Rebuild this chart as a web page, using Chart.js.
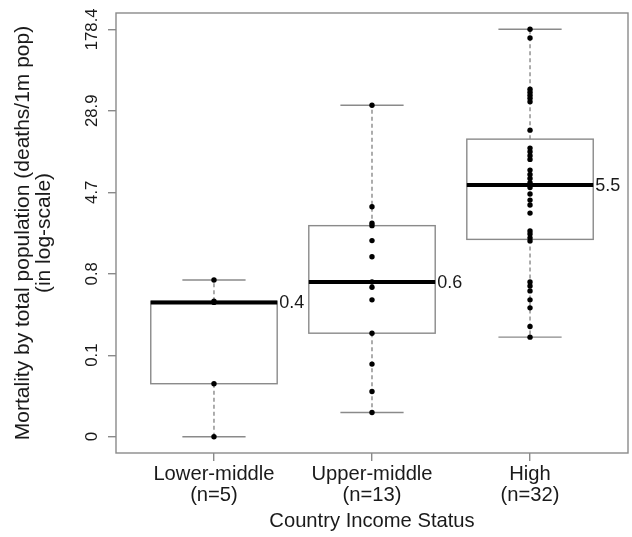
<!DOCTYPE html>
<html>
<head>
<meta charset="utf-8">
<script src="https://cdn.jsdelivr.net/npm/chart.js@4.4.1/dist/chart.umd.min.js"></script>
<style>
  html, body { margin: 0; padding: 0; background: #fff; }
  #wrap { width: 632px; height: 537px; }
</style>
</head>
<body>
<div id="wrap"><canvas id="chart" width="632" height="537"></canvas></div>
<script>
// categories and per-country values (deaths per 1m pop)
const categories = ['Lower-middle', 'Upper-middle', 'High'];
const lowerMiddle = [0.0199, 0.065, 0.40, 0.41, 0.66];
const upperMiddle = [32.7, 3.39, 2.34, 2.22, 1.59, 1.11, 0.63, 0.561, 0.423, 0.201, 0.1007, 0.0547, 0.0342];
const high = [178.4, 146.9, 46.8, 43.8, 40.9, 38.3, 35.3, 18.75, 12.55, 11.56, 10.57, 9.75,
    7.68, 6.98, 6.38, 5.81, 5.20, 4.50, 3.93, 3.52, 2.94, 1.97, 1.84, 1.69, 1.58,
    0.632, 0.578, 0.517, 0.423, 0.354, 0.233, 0.184];
const groups = [lowerMiddle, upperMiddle, high];

// y axis ticks (log scale) and their printed labels
const yTickValues = [0.0199, 0.1229, 0.758, 4.682, 28.9, 178.4];
const yTickLabels = ['0', '0.1', '0.8', '4.7', '28.9', '178.4'];

const FONT = '"Liberation Sans", Arial, sans-serif';
const GREY = '#8a8a8a';
const TEXT = '#1a1a1a';

// R style fivenum + whiskers, computed on log10 values
function boxStats(vals) {
    const x = vals.map(v => Math.log10(v)).sort((a, b) => a - b);
    const n = x.length;
    const n4 = Math.floor((n + 3) / 2) / 2;
    const d = [1, n4, (n + 1) / 2, n + 1 - n4, n];
    const f = d.map(di => 0.5 * (x[Math.floor(di) - 1] + x[Math.ceil(di) - 1]));
    const iqr = f[3] - f[1];
    const lo = x.find(v => v >= f[1] - 1.5 * iqr);
    const hi = x.slice().reverse().find(v => v <= f[3] + 1.5 * iqr);
    return {
        min: Math.pow(10, lo), q1: Math.pow(10, f[1]), med: Math.pow(10, f[2]),
        q3: Math.pow(10, f[3]), max: Math.pow(10, hi)
    };
}

// 4% padding on both ends in log space, like R
const logMin = Math.log10(yTickValues[0]);
const logMax = Math.log10(yTickValues[yTickValues.length - 1]);
const logPad = 0.04 * (logMax - logMin);

const boxPlugin = {
    id: 'boxes',
    beforeDatasetsDraw(chart) {
        const ctx = chart.ctx;
        const xs = chart.scales.x, ys = chart.scales.y;
        groups.forEach((vals, i) => {
            const s = boxStats(vals);
            const cx = xs.getPixelForValue(i + 1);
            const bl = xs.getPixelForValue(i + 1 - 0.4), br = xs.getPixelForValue(i + 1 + 0.4);
            const cl = xs.getPixelForValue(i + 1 - 0.2), cr = xs.getPixelForValue(i + 1 + 0.2);
            const yMin = ys.getPixelForValue(s.min), yMax = ys.getPixelForValue(s.max);
            const yQ1 = ys.getPixelForValue(s.q1), yQ3 = ys.getPixelForValue(s.q3);
            const yMed = ys.getPixelForValue(s.med);
            ctx.save();
            ctx.strokeStyle = GREY;
            ctx.lineWidth = 1.4;
            // whiskers
            ctx.setLineDash([4, 3]);
            ctx.beginPath();
            ctx.moveTo(cx, yQ3); ctx.lineTo(cx, yMax);
            ctx.moveTo(cx, yQ1); ctx.lineTo(cx, yMin);
            ctx.stroke();
            ctx.setLineDash([]);
            // caps
            ctx.beginPath();
            ctx.moveTo(cl, yMax); ctx.lineTo(cr, yMax);
            ctx.moveTo(cl, yMin); ctx.lineTo(cr, yMin);
            ctx.stroke();
            // box
            ctx.fillStyle = '#fff';
            ctx.fillRect(bl, yQ3, br - bl, yQ1 - yQ3);
            ctx.strokeRect(bl, yQ3, br - bl, yQ1 - yQ3);
            // median
            ctx.strokeStyle = '#000';
            ctx.lineWidth = 4;
            ctx.beginPath();
            ctx.moveTo(bl, yMed); ctx.lineTo(br, yMed);
            ctx.stroke();
            ctx.restore();
        });
    },
    afterDatasetsDraw(chart) {
        const ctx = chart.ctx;
        const xs = chart.scales.x, ys = chart.scales.y;
        const a = chart.chartArea;
        ctx.save();
        // frame
        ctx.strokeStyle = GREY;
        ctx.lineWidth = 1.4;
        ctx.strokeRect(a.left, a.top, a.right - a.left, a.bottom - a.top);
        // median labels
        ctx.fillStyle = TEXT;
        ctx.font = '18px ' + FONT;
        ctx.textAlign = 'left';
        ctx.textBaseline = 'middle';
        groups.forEach((vals, i) => {
            const s = boxStats(vals);
            ctx.fillText(s.med.toFixed(1), xs.getPixelForValue(i + 1 + 0.4) + 2, ys.getPixelForValue(s.med) + 1);
        });
        // y tick labels, parallel to the axis
        ctx.font = '16.8px ' + FONT;
        ctx.textAlign = 'center';
        ctx.textBaseline = 'alphabetic';
        yTickValues.forEach((v, i) => {
            ctx.save();
            ctx.translate(96.5, ys.getPixelForValue(v));
            ctx.rotate(-Math.PI / 2);
            ctx.fillText(yTickLabels[i], 0, 0);
            ctx.restore();
        });
        ctx.restore();
    }
};

new Chart(document.getElementById('chart').getContext('2d'), {
    type: 'scatter',
    data: {
        datasets: groups.map((vals, i) => ({
            label: categories[i],
            data: vals.map(v => ({ x: i + 1, y: v })),
            pointRadius: 2.7,
            pointBorderWidth: 0,
            pointBackgroundColor: '#000',
            pointBorderColor: '#000'
        }))
    },
    options: {
        responsive: false,
        animation: false,
        layout: { padding: { top: 13, right: 3, left: 0, bottom: 0 } },
        plugins: { legend: { display: false }, tooltip: { enabled: false } },
        scales: {
            x: {
                type: 'linear',
                min: 0.38,
                max: 3.62,
                afterBuildTicks: scale => { scale.ticks = categories.map((c, i) => ({ value: i + 1 })); },
                afterFit: scale => { scale.height = 84; },
                grid: { drawOnChartArea: false, drawTicks: true, tickLength: 8, color: GREY, lineWidth: 1.4 },
                border: { display: false },
                ticks: {
                    autoSkip: false, maxRotation: 0, minRotation: 0, padding: 3,
                    color: TEXT,
                    font: { family: FONT, size: 20.2, lineHeight: 1.03 },
                    callback: (value, index) => [categories[index], '(n=' + groups[index].length + ')']
                },
                title: {
                    display: true,
                    text: 'Country Income Status',
                    color: TEXT,
                    font: { family: FONT, size: 20.2, lineHeight: 1.03 },
                    padding: { top: 0, bottom: 5 }
                }
            },
            y: {
                type: 'logarithmic',
                min: Math.pow(10, logMin - logPad),
                max: Math.pow(10, logMax + logPad),
                afterBuildTicks: scale => { scale.ticks = yTickValues.map(v => ({ value: v })); },
                afterFit: scale => { scale.width = 116; },
                grid: { drawOnChartArea: false, drawTicks: true, tickLength: 8, color: GREY, lineWidth: 1.4 },
                border: { display: false },
                ticks: { display: false },
                title: {
                    display: true,
                    text: ['Mortality by total population (deaths/1m pop)', '(in log-scale)'],
                    color: TEXT,
                    font: { family: FONT, size: 21, lineHeight: 1.0 },
                    padding: { top: 12.5, bottom: 0 }
                }
            }
        }
    },
    plugins: [boxPlugin]
});
</script>
</body>
</html>
